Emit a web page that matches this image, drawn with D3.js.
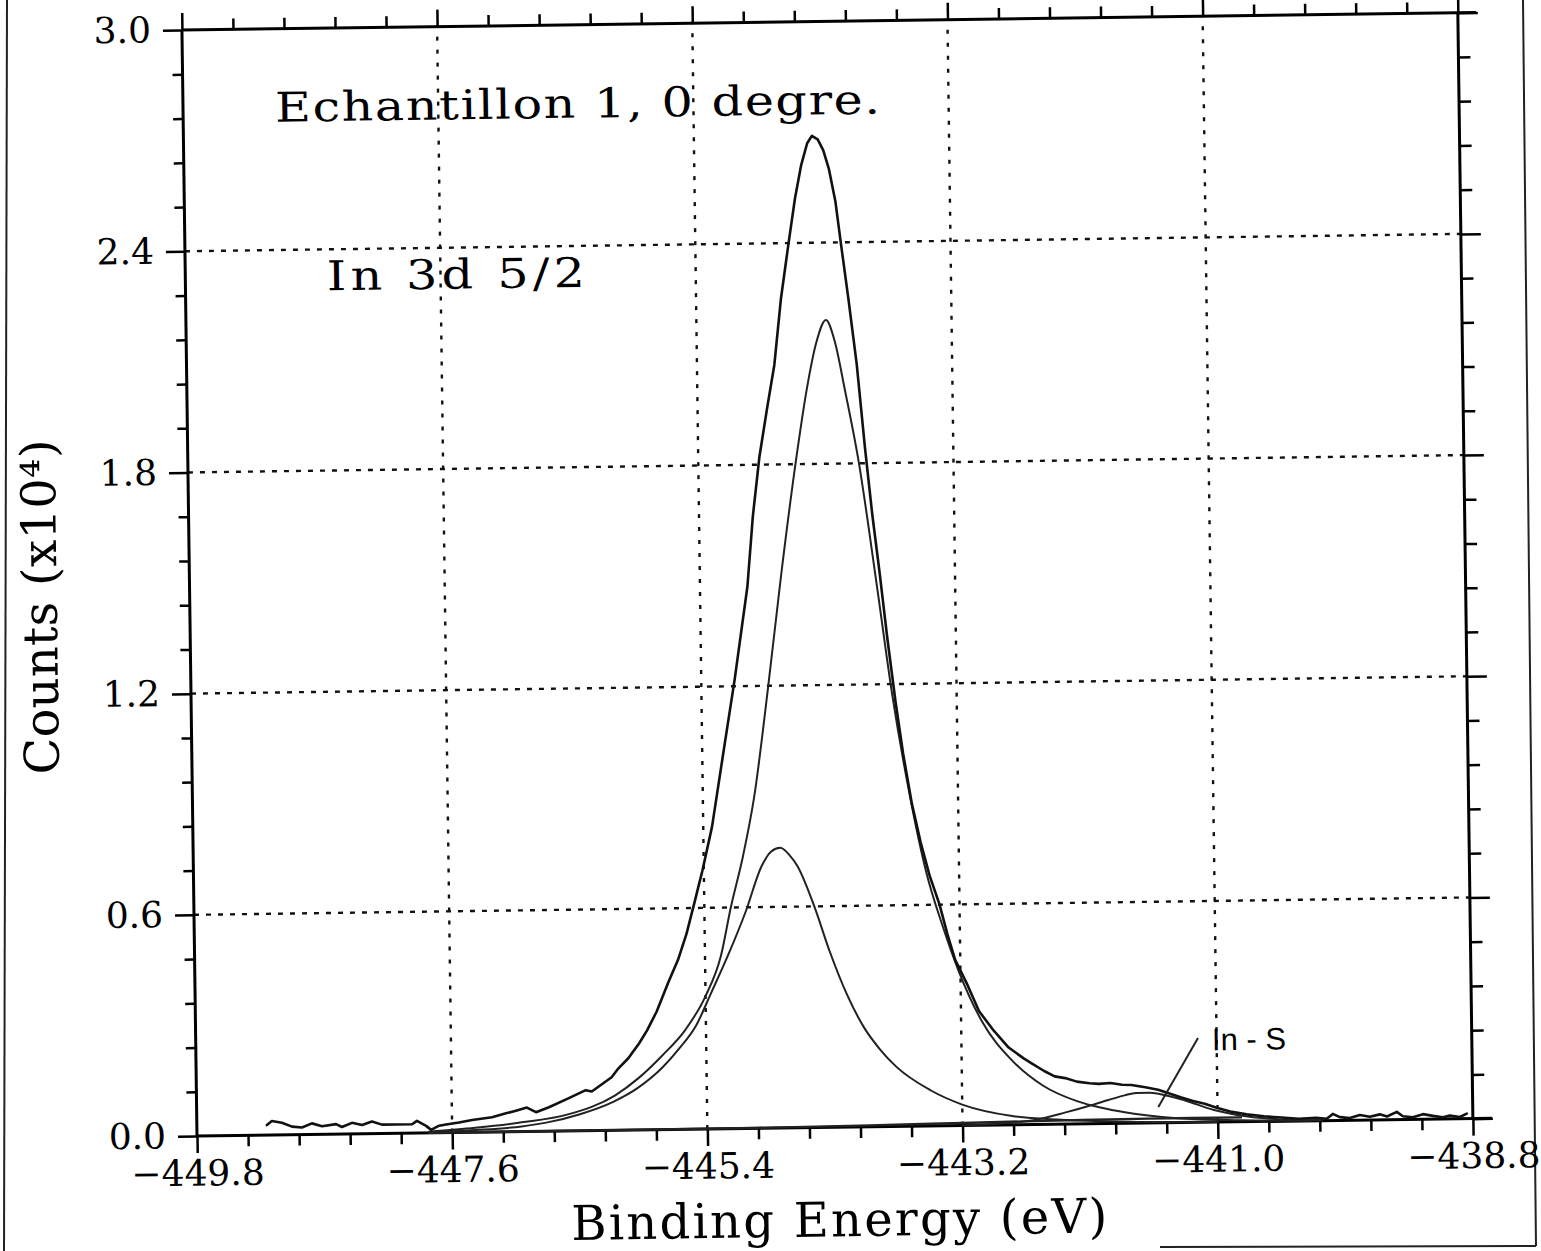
<!DOCTYPE html>
<html>
<head>
<meta charset="utf-8">
<script src="https://cdn.jsdelivr.net/npm/d3@7"></script>
<style>
  html, body { margin: 0; padding: 0; background: #fff; }
  svg { display: block; }
</style>
</head>
<body>
<script>
// ---------------- DATA ----------------
// Binding energy (eV) / counts (x10^4)
const measured = [
  [-449.196,0.027],[-449.153,0.038],[-449.067,0.033],[-448.98,0.022],[-448.894,0.019],
  [-448.808,0.030],[-448.721,0.022],[-448.60,0.027],[-448.549,0.019],[-448.463,0.030],
  [-448.376,0.024],[-448.29,0.033],[-448.204,0.024],[-448.083,0.024],[-447.945,0.024],
  [-447.902,0.033],[-447.824,0.019],[-447.781,0.008],[-447.712,0.019],[-447.652,0.022],
  [-447.54,0.027],[-447.427,0.033],[-447.255,0.040],[-447.134,0.050],[-447.048,0.057],
  [-446.953,0.065],[-446.875,0.052],[-446.763,0.065],[-446.59,0.089],[-446.444,0.110],
  [-446.392,0.106],[-446.219,0.144],[-446.159,0.168],[-446.073,0.195],[-445.976,0.236],
  [-445.908,0.27],[-445.824,0.32],[-445.718,0.40],[-445.633,0.46],[-445.557,0.53],
  [-445.480,0.62],[-445.447,0.66],[-445.413,0.70],[-445.324,0.82],[-445.218,1.02],
  [-445.111,1.22],[-444.991,1.47],[-444.936,1.66],[-444.873,1.82],[-444.802,1.95],
  [-444.733,2.07],[-444.668,2.25],[-444.596,2.40],[-444.536,2.52],[-444.479,2.61],
  [-444.424,2.67],[-444.383,2.69],[-444.333,2.68],[-444.286,2.65],[-444.240,2.60],
  [-444.187,2.51],[-444.146,2.40],[-444.088,2.25],[-444.023,2.07],[-443.961,1.84],
  [-443.906,1.66],[-443.849,1.50],[-443.793,1.33],[-443.727,1.15],[-443.668,1.01],
  [-443.599,0.875],[-443.528,0.77],[-443.455,0.68],[-443.372,0.60],[-443.308,0.52],
  [-443.244,0.45],[-443.139,0.38],[-443.045,0.31],[-442.929,0.26],[-442.793,0.21],
  [-442.665,0.18],[-442.59,0.165],[-442.49,0.145],[-442.40,0.13],[-442.31,0.125],
  [-442.21,0.115],[-442.10,0.11],[-442.02,0.108],[-441.92,0.11],[-441.82,0.105],
  [-441.74,0.104],[-441.62,0.097],[-441.51,0.09],[-441.40,0.078],[-441.31,0.068],
  [-441.21,0.058],[-441.11,0.05],[-441.00,0.038],[-440.89,0.028],[-440.75,0.02],
  [-440.60,0.014],[-440.45,0.010],[-440.30,0.006],[-440.15,0.008],[-440.06,0.005],
  [-440.007,0.018],[-439.947,0.009],[-439.86,0.006],[-439.774,0.014],[-439.688,0.009],
  [-439.601,0.015],[-439.54,0.009],[-439.455,0.021],[-439.403,0.009],[-439.317,0.006],
  [-439.23,0.014],[-439.144,0.009],[-439.058,0.005],[-438.998,0.009],[-438.912,0.005],
  [-438.852,0.014]
];

const mainPeak = [
  [-447.8,0.003],[-447.4,0.012],[-447.0,0.025],[-446.6,0.045],[-446.19,0.095],
  [-445.99,0.14],[-445.784,0.20],[-445.578,0.27],[-445.401,0.36],[-445.262,0.47],
  [-445.172,0.60],[-445.06,0.74],[-444.957,0.90],[-444.823,1.20],[-444.699,1.50],
  [-444.553,1.82],[-444.458,2.00],[-444.368,2.13],[-444.283,2.19],[-444.208,2.13],
  [-444.128,2.00],[-444.015,1.80],[-443.880,1.48],[-443.755,1.17],[-443.617,0.90],
  [-443.484,0.69],[-443.346,0.54],[-443.216,0.42],[-443.017,0.28],[-442.766,0.175],
  [-442.5,0.105],[-442.21,0.062],[-442.0,0.043],[-441.8,0.03],[-441.35,0.012],
  [-440.8,0.004],[-440.2,0.0]
];

const secondPeak = [
  [-447.8,0.002],[-447.4,0.006],[-447.0,0.014],[-446.778,0.024],[-446.496,0.045],
  [-446.204,0.078],[-445.991,0.115],[-445.776,0.17],[-445.632,0.22],[-445.487,0.28],
  [-445.35,0.37],[-445.202,0.47],[-445.042,0.59],[-444.903,0.71],[-444.819,0.75],
  [-444.739,0.76],[-444.66,0.74],[-444.593,0.71],[-444.452,0.60],[-444.322,0.475],
  [-444.181,0.36],[-444.038,0.27],[-443.903,0.21],[-443.767,0.163],[-443.472,0.097],
  [-443.2,0.057],[-442.77,0.024],[-442.35,0.012],[-441.78,0.004],[-441.0,0.0]
];

const inSPeak = [
  [-443.2,0.0],[-442.87,0.004],[-442.59,0.012],[-442.31,0.032],[-442.14,0.046],
  [-441.94,0.064],[-441.80,0.076],[-441.70,0.082],[-441.58,0.082],[-441.45,0.075],
  [-441.28,0.06],[-441.03,0.033],[-440.74,0.014],[-440.46,0.005],[-440.1,0.001]
];

const background = [
  [-447.8,0.0],[-445.0,0.001],[-444.0,0.004],[-443.2,0.007],[-442.4,0.010],
  [-441.6,0.012],[-440.8,0.012]
];

const xMajorTicks = [-449.8, -447.6, -445.4, -443.2, -441.0, -438.8];
const xTickLabels = ["\u2212449.8", "\u2212447.6", "\u2212445.4", "\u2212443.2", "\u2212441.0", "\u2212438.8"];
const yMajorTicks = [0.0, 0.6, 1.2, 1.8, 2.4, 3.0];
const yTickLabels = ["0.0", "0.6", "1.2", "1.8", "2.4", "3.0"];
const xGridValues = [-447.6, -445.4, -443.2, -441.0];
const yGridValues = [0.6, 1.2, 1.8, 2.4];

const titleText = "Echantillon 1, 0 degre.";
const subtitleText = "In 3d 5/2";
const peakLabel = "In - S";
const xAxisTitle = "Binding Energy (eV)";
const yAxisTitle = "Counts (x10\u2074)";

// ---------------- LAYOUT ----------------
const W = 1541, H = 1251;
const plot = { left: 197, right: 1473, top: 30, bottom: 1136 };
const tilt = -0.78; // the scanned page is slightly rotated

const x = d3.scaleLinear().domain([-449.8, -438.8]).range([plot.left, plot.right]);
const y = d3.scaleLinear().domain([0, 3]).range([plot.bottom, plot.top]);

const xMinor = d3.range(0, 26).map(i => -449.8 + i * 0.44).filter((d, i) => i % 5 !== 0);
const yMinor = d3.range(0, 26).map(i => i * 0.12).filter((d, i) => i % 5 !== 0);

const svg = d3.select("body").append("svg").attr("width", W).attr("height", H);

// page edges of the scan
const edge = svg.append("g").attr("stroke", "#222").attr("stroke-width", 2).attr("fill", "none");
edge.append("line").attr("x1", 7).attr("y1", 0).attr("x2", 4).attr("y2", H);
edge.append("line").attr("x1", 1523).attr("y1", 0).attr("x2", 1536).attr("y2", 1246);
edge.append("line").attr("x1", 1160).attr("y1", 1247).attr("x2", 1536).attr("y2", 1246);

const g = svg.append("g").attr("transform", `rotate(${tilt} ${plot.left} ${plot.bottom})`);

// grid
const grid = g.append("g").attr("stroke", "#111").attr("stroke-width", 2.4).attr("fill", "none");
grid.selectAll(".vg").data(xGridValues).join("line")
  .attr("x1", d => x(d)).attr("x2", d => x(d))
  .attr("y1", plot.bottom).attr("y2", plot.top)
  .attr("stroke-dasharray", "4,9");
grid.selectAll(".hg").data(yGridValues).join("line")
  .attr("x1", plot.left).attr("x2", plot.right)
  .attr("y1", d => y(d)).attr("y2", d => y(d))
  .attr("stroke-dasharray", "5,7");

// axes (ticks)
function styleAxis(sel) {
  sel.select(".domain").remove();
  sel.selectAll(".tick line").attr("stroke", "#000").attr("stroke-width", 2.5);
  sel.selectAll(".tick text")
    .attr("fill", "#000")
    .style("font-family", "'DejaVu Serif', serif")
    .style("font-size", "36px");
}
g.append("g").attr("transform", `translate(0,${plot.bottom})`)
  .call(d3.axisBottom(x).tickValues(xMinor).tickSize(11).tickFormat("")).call(styleAxis);
g.append("g").attr("transform", `translate(0,${plot.bottom})`)
  .call(d3.axisBottom(x).tickValues(xMajorTicks).tickSize(17)
    .tickFormat((d, i) => xTickLabels[i]).tickPadding(7))
  .call(styleAxis)
  .call(s => s.selectAll(".tick text").attr("dy", "0.71em").attr("y", 24));
g.append("g").attr("transform", `translate(0,${plot.top})`)
  .call(d3.axisTop(x).tickValues(xMinor).tickSize(11).tickFormat("")).call(styleAxis);
g.append("g").attr("transform", `translate(0,${plot.top})`)
  .call(d3.axisTop(x).tickValues(xMajorTicks).tickSize(17).tickFormat("")).call(styleAxis);
g.append("g").attr("transform", `translate(${plot.left},0)`)
  .call(d3.axisLeft(y).tickValues(yMinor).tickSize(10).tickFormat("")).call(styleAxis);
g.append("g").attr("transform", `translate(${plot.left},0)`)
  .call(d3.axisLeft(y).tickValues(yMajorTicks).tickSize(19)
    .tickFormat((d, i) => yTickLabels[i]).tickPadding(12))
  .call(styleAxis);
g.append("g").attr("transform", `translate(${plot.right},0)`)
  .call(d3.axisRight(y).tickValues(yMinor).tickSize(12).tickFormat("")).call(styleAxis);
g.append("g").attr("transform", `translate(${plot.right},0)`)
  .call(d3.axisRight(y).tickValues(yMajorTicks).tickSize(20).tickFormat("")).call(styleAxis);

// frame
const frame = g.append("g").attr("stroke", "#000").attr("stroke-width", 3).attr("fill", "none");
frame.append("line").attr("x1", plot.left).attr("y1", plot.top).attr("x2", plot.left).attr("y2", plot.bottom);
frame.append("line").attr("x1", plot.right).attr("y1", plot.top).attr("x2", plot.right).attr("y2", plot.bottom);
frame.append("line").attr("x1", plot.left).attr("y1", plot.top).attr("x2", plot.right + 18).attr("y2", plot.top);
frame.append("line").attr("x1", plot.left).attr("y1", plot.bottom).attr("x2", plot.right + 19).attr("y2", plot.bottom);

// curves
const smooth = d3.line().x(d => x(d[0])).y(d => y(d[1])).curve(d3.curveMonotoneX);
const raw = d3.line().x(d => x(d[0])).y(d => y(d[1])).curve(d3.curveLinear);
const curves = g.append("g").attr("fill", "none").attr("stroke-linejoin", "round").attr("stroke-linecap", "round");
curves.append("path").attr("d", smooth(background)).attr("stroke", "#222").attr("stroke-width", 2.4);
curves.append("path").attr("d", smooth(inSPeak)).attr("stroke", "#222").attr("stroke-width", 2);
curves.append("path").attr("d", smooth(secondPeak)).attr("stroke", "#222").attr("stroke-width", 2);
curves.append("path").attr("d", smooth(mainPeak)).attr("stroke", "#222").attr("stroke-width", 2);
curves.append("path").attr("d", raw(measured)).attr("stroke", "#111").attr("stroke-width", 2.6);

// annotations
const serif = "'DejaVu Serif', serif";
function wideText(parent, px, py, str, size, width, sx) {
  parent.append("text")
    .attr("transform", `translate(${px},${py}) scale(${sx},1)`)
    .attr("textLength", width / sx).attr("lengthAdjust", "spacing")
    .style("font-family", serif).style("font-size", size + "px").text(str);
}
wideText(g, x(-449.007), y(2.748), titleText, 41, 605, 1.2);
wideText(g, x(-448.58), y(2.289), subtitleText, 41, 258, 1.2);
g.append("text").attr("x", x(-441.04)).attr("y", y(0.195))
  .style("font-family", "'Liberation Sans', Arial, sans-serif").style("font-size", "31px").text(peakLabel);
g.append("line").attr("x1", x(-441.16)).attr("y1", y(0.229)).attr("x2", x(-441.51)).attr("y2", y(0.043))
  .attr("stroke", "#222").attr("stroke-width", 2);

// axis titles
g.append("text").attr("x", 838).attr("y", 1245).attr("text-anchor", "middle")
  .attr("textLength", 536).attr("lengthAdjust", "spacing")
  .style("font-family", serif).style("font-size", "48px").text(xAxisTitle);
g.append("text").attr("transform", "translate(64,605) rotate(-90)").attr("text-anchor", "middle")
  .attr("textLength", 335).attr("lengthAdjust", "spacing")
  .style("font-family", serif).style("font-size", "48px").text(yAxisTitle);
</script>
</body>
</html>
